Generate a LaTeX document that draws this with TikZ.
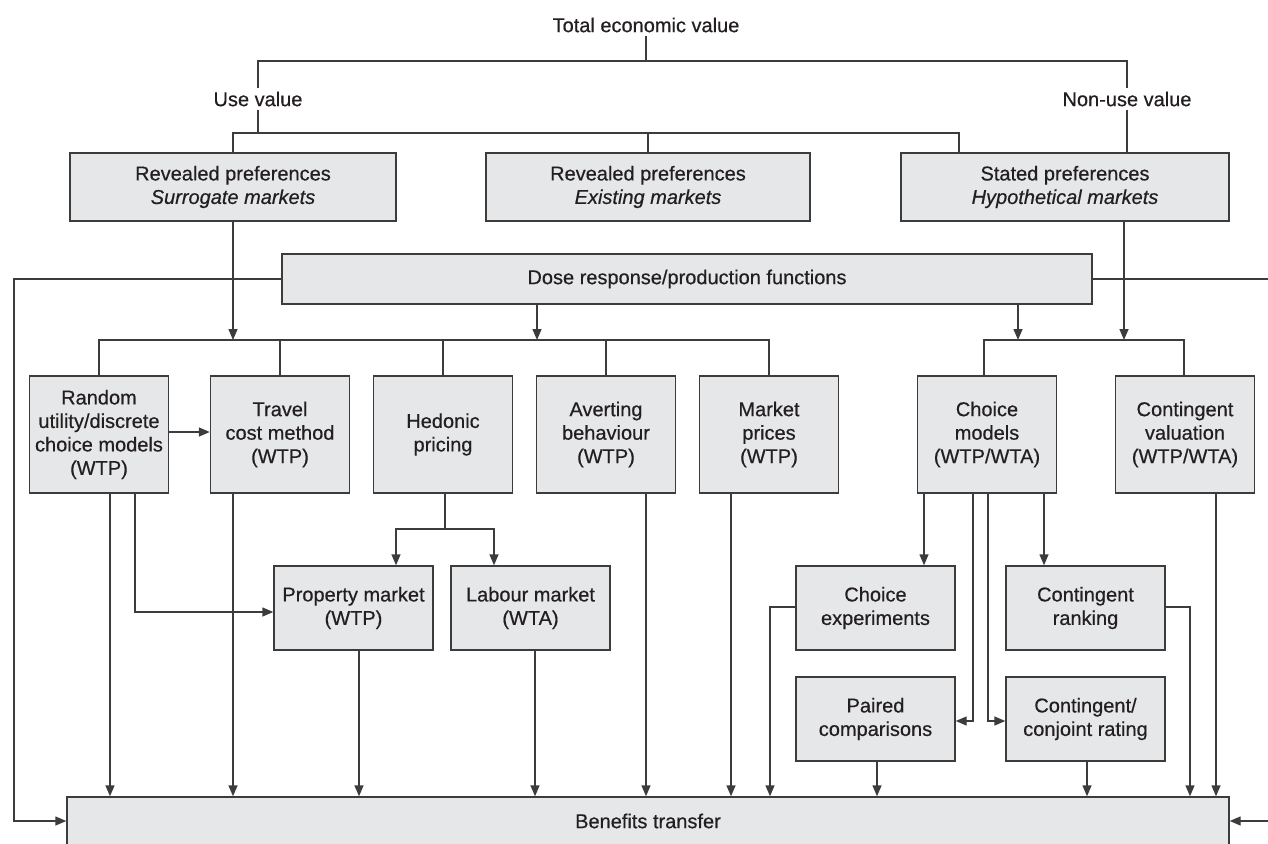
\documentclass[tikz,border=0pt]{standalone}
\usepackage{fontspec}
\setmainfont{Liberation Sans}[FakeBold=0.5,BoldFont={Liberation Sans},BoldFeatures={FakeBold=0.5}]
\usetikzlibrary{arrows.meta}
\definecolor{linec}{HTML}{3C3C3C}
\definecolor{boxfill}{HTML}{E6E7E8}
\definecolor{txt}{HTML}{231F20}
\begin{document}
\begin{tikzpicture}[x=1pt,y=-1pt,
  every node/.style={font=\fontsize{20}{23.5}\selectfont, text=txt},
  box/.style={draw=linec, fill=boxfill, line width=1.4pt, align=center, inner sep=0pt},
  rowbox/.style={box, minimum width=139, minimum height=117},
  subbox/.style={box, minimum width=159, minimum height=84},
  conn/.style={draw=linec, line width=1.4pt},
  arr/.style={conn, -{Triangle[length=11pt,width=9pt]}},
  lbl/.style={inner sep=3pt}]
\useasboundingbox (0,0) rectangle (1268,843);
% top labels
\node[lbl] (tev) at (646,25) {Total economic value};
\node[lbl] (use) at (258,99) {Use value};
\node[lbl] (nonuse) at (1127,99) {Non-use value};
% top boxes
\node[box, minimum width=326, minimum height=68] (rps) at (233,187) {Revealed preferences\\\itshape Surrogate markets};
\node[box, minimum width=324, minimum height=68] (rpe) at (648,187) {Revealed preferences\\\itshape Existing markets};
\node[box, minimum width=328, minimum height=68] (sp) at (1065,187) {Stated preferences\\\itshape Hypothetical markets};
\node[box, minimum width=810, minimum height=50] (dose) at (687,279) {Dose response/production functions};
% row boxes
\node[rowbox] (ru) at (99,434.5) {Random\\utility/discrete\\choice models\\(WTP)};
\node[rowbox] (tc) at (280,434.5) {Travel\\cost method\\(WTP)};
\node[rowbox] (hp) at (443,434.5) {Hedonic\\pricing};
\node[rowbox] (ab) at (606,434.5) {Averting\\behaviour\\(WTP)};
\node[rowbox] (mp) at (769,434.5) {Market\\prices\\(WTP)};
\node[rowbox] (cm) at (987,434.5) {Choice\\models\\(WTP/WTA)};
\node[rowbox] (cv) at (1185,434.5) {Contingent\\valuation\\(WTP/WTA)};
% sub boxes
\node[subbox] (pm) at (353.5,608) {Property market\\(WTP)};
\node[subbox] (lm) at (530.5,608) {Labour market\\(WTA)};
\node[subbox] (ce) at (875.5,608) {Choice\\experiments};
\node[subbox] (cr) at (1085.5,608) {Contingent\\ranking};
\node[subbox] (pc) at (875.5,719) {Paired\\comparisons};
\node[subbox] (ccr) at (1085.5,719) {Contingent/\\conjoint rating};
% benefits transfer
\node[box, minimum width=1162, minimum height=48] (bt) at (648,821) {Benefits transfer};
% coordinates
\coordinate (topL) at (258,61);
\coordinate (topR) at (1127,61);
\coordinate (midL) at (258,133);
\coordinate (midR) at (959,133);
\coordinate (busA) at (0,340);
\coordinate (hj) at (445,529);
\coordinate (xL) at (14,0);
\coordinate (xR) at (1272,0);
\coordinate (x770) at (770,0);
\coordinate (x1190) at (1190,0);
% top connectors
\draw[conn] (tev.south) -- (tev.south |- topL);
\draw[conn] (use.north) -- (topL) -- (topR) -- (nonuse.north);
\draw[conn] (use.south) -- (midL);
\draw[conn] (nonuse.south) -- (nonuse.south |- sp.north);
\draw[conn] (rps.north) |- (midR) -- (midR |- sp.north);
\draw[conn] (rpe.north) -- (rpe.north |- midR);
% into buses
\draw[arr] (rps.south) -- (rps.south |- busA);
\draw[arr] ([xshift=-150pt]dose.south) -- ([xshift=-150pt]dose.south |- busA);
\draw[arr] ([xshift=331pt]dose.south) -- ([xshift=331pt]dose.south |- busA);
\draw[arr] ([xshift=59pt]sp.south) -- ([xshift=59pt]sp.south |- busA);
% bus A
\draw[conn] (ru.north) -- (ru.north |- busA) -- (mp.north |- busA) -- (mp.north);
\draw[conn] (tc.north) -- (tc.north |- busA);
\draw[conn] (hp.north) -- (hp.north |- busA);
\draw[conn] (ab.north) -- (ab.north |- busA);
% bus B
\draw[conn] ([xshift=-3pt]cm.north) -- ([xshift=-3pt]cm.north |- busA) -- ([xshift=-1pt]cv.north |- busA) -- ([xshift=-1pt]cv.north);
% feedback loops from dose
\draw[arr] (dose.west) -- (xL |- dose.west) |- (bt.west);
\draw[arr] (dose.east) -- (xR |- dose.east) |- (bt.east);
% row links
\draw[arr] ([yshift=2.5pt]ru.east) -- ([yshift=2.5pt]tc.west);
\draw[arr] ([xshift=11pt]ru.south) -- ([xshift=11pt]ru.south |- bt.north);
\draw[arr] ([xshift=36pt]ru.south) |- ([yshift=-4pt]pm.west);
\draw[arr] ([xshift=-47pt]tc.south) -- ([xshift=-47pt]tc.south |- bt.north);
\draw[conn] (hp.south -| hj) -- (hj);
\draw[arr] (hj) -| ([xshift=42.5pt]pm.north);
\draw[arr] (hj) -| ([xshift=-36.5pt]lm.north);
\draw[arr] ([xshift=5.5pt]pm.south) -- ([xshift=5.5pt]pm.south |- bt.north);
\draw[arr] ([xshift=4.5pt]lm.south) -- ([xshift=4.5pt]lm.south |- bt.north);
\draw[arr] ([xshift=40pt]ab.south) -- ([xshift=40pt]ab.south |- bt.north);
\draw[arr] ([xshift=-38pt]mp.south) -- ([xshift=-38pt]mp.south |- bt.north);
% choice models
\draw[arr] ([xshift=-63pt]cm.south) -- ([xshift=-63pt]cm.south |- ce.north);
\draw[arr] ([xshift=57pt]cm.south) -- ([xshift=57pt]cm.south |- cr.north);
\draw[arr] ([xshift=-14pt]cm.south) |- ([yshift=-2pt]pc.east);
\draw[arr] ([xshift=1pt]cm.south) |- ([yshift=-2pt]ccr.west);
\draw[arr] ([yshift=1pt]ce.west) -| (x770 |- bt.north);
\draw[arr] ([yshift=1pt]cr.east) -| (x1190 |- bt.north);
\draw[arr] ([xshift=1.5pt]pc.south) -- ([xshift=1.5pt]pc.south |- bt.north);
\draw[arr] ([xshift=1.5pt]ccr.south) -- ([xshift=1.5pt]ccr.south |- bt.north);
\draw[arr] ([xshift=31pt]cv.south) -- ([xshift=31pt]cv.south |- bt.north);
\end{tikzpicture}
\end{document}
